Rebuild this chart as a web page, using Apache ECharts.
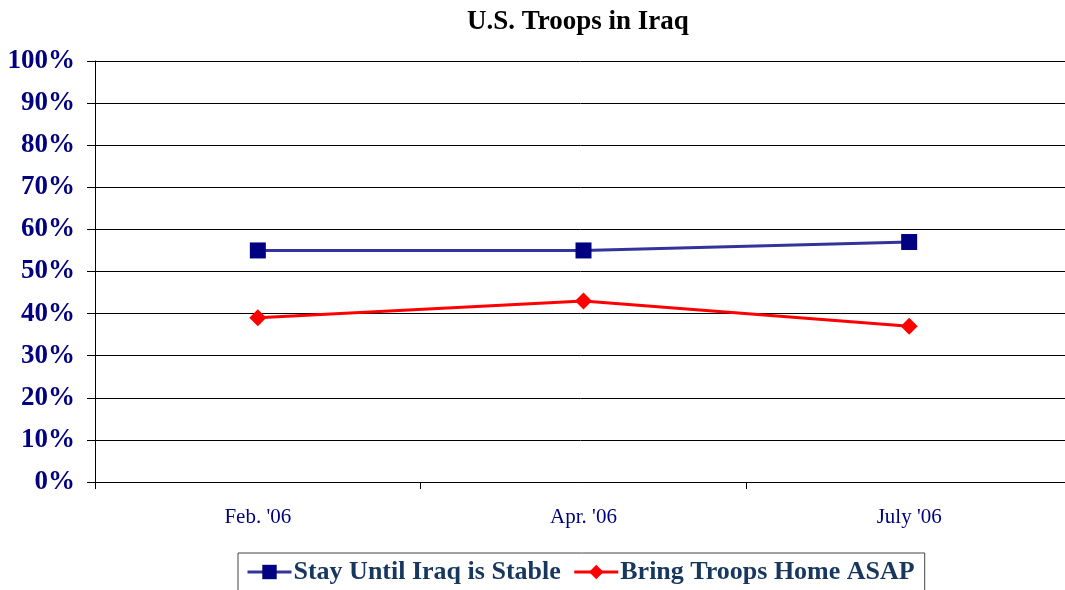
<!DOCTYPE html>
<html>
<head>
<meta charset="utf-8">
<script src="https://cdn.jsdelivr.net/npm/echarts@6/dist/echarts.min.js"></script>
<style>
  html, body { margin: 0; padding: 0; background: #fff; }
  #chart { width: 1065px; height: 590px; }
</style>
</head>
<body>
<div id="chart"></div>
<script>
const categories = ["Feb. '06", "Apr. '06", "July '06"];
const stayValues = [55, 55, 57];
const bringHomeValues = [39, 43, 37];
const seriesNames = ["Stay Until Iraq is Stable", "Bring Troops Home ASAP"];

const chart = echarts.init(document.getElementById("chart"));

chart.setOption({
  animation: false,
  textStyle: { fontFamily: "Liberation Serif, Times New Roman, serif" },
  title: {
    text: "U.S. Troops in Iraq",
    left: 462,
    top: 4,
    textStyle: { fontSize: 27, fontWeight: "bold", color: "#000" },
  },
  legend: {
    data: seriesNames,
    bottom: -3,
    left: 238,
    padding: [6, 10, 8, 8],
    itemGap: 12,
    itemWidth: 44,
    itemHeight: 18,
    borderColor: "#444",
    borderWidth: 1,
    lineStyle: { width: 3 },
    textStyle: {
      fontSize: 26,
      fontWeight: "bold",
      color: "#17375E",
      padding: [0, 0, 0, -3],
    },
  },
  grid: {
    left: 95,
    top: 61,
    width: 977,
    bottom: 108,
    outerBoundsMode: "none",
  },
  xAxis: {
    type: "category",
    data: categories,
    boundaryGap: true,
    axisLine: { lineStyle: { color: "#000", width: 1 } },
    axisTick: { show: true, length: 7, lineStyle: { color: "#000" } },
    axisLabel: { color: "#000080", fontSize: 21, margin: 25 },
  },
  yAxis: {
    type: "value",
    min: 0,
    max: 100,
    interval: 10,
    axisLine: { show: true, lineStyle: { color: "#000", width: 1 } },
    axisTick: { show: true, length: 8, lineStyle: { color: "#000" } },
    axisLabel: {
      color: "#000080",
      fontSize: 27,
      fontWeight: "bold",
      margin: 20,
      formatter: "{value}%",
    },
    splitLine: { lineStyle: { color: "#000", width: 1 } },
  },
  series: [
    {
      name: seriesNames[0],
      type: "line",
      data: stayValues,
      symbol: "rect",
      symbolSize: 16,
      lineStyle: { color: "#333399", width: 3 },
      itemStyle: { color: "#000080" },
    },
    {
      name: seriesNames[1],
      type: "line",
      data: bringHomeValues,
      symbol: "diamond",
      symbolSize: 17,
      lineStyle: { color: "#FF0000", width: 3 },
      itemStyle: { color: "#FF0000" },
    },
  ],
});
</script>
</body>
</html>
